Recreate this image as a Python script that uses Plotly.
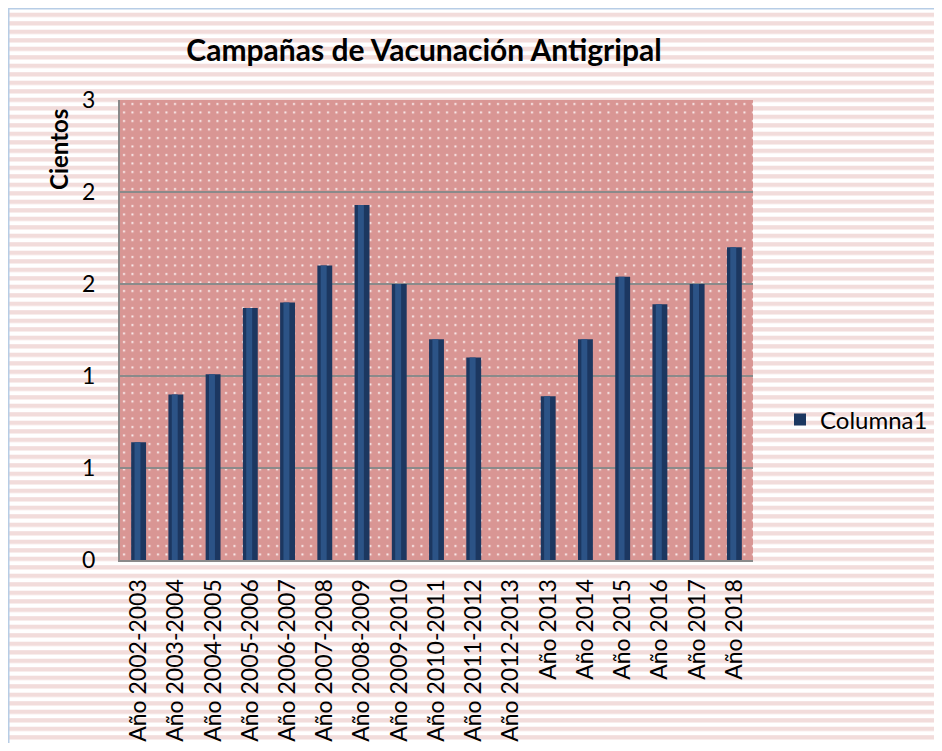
import base64
import plotly.graph_objects as go

# ---- data ----
categories = ["Año 2002-2003", "Año 2003-2004", "Año 2004-2005", "Año 2005-2006",
              "Año 2006-2007", "Año 2007-2008", "Año 2008-2009", "Año 2009-2010",
              "Año 2010-2011", "Año 2011-2012", "Año 2012-2013", "Año 2013",
              "Año 2014", "Año 2015", "Año 2016", "Año 2017", "Año 2018"]
columna1 = [0.64, 0.90, 1.01, 1.37, 1.40, 1.60, 1.93, 1.50, 1.20, 1.10,
            0, 0.89, 1.20, 1.54, 1.39, 1.50, 1.70]
y_tickvals = [0, 0.5, 1, 1.5, 2, 2.5]
y_ticktext = ["0", "1", "1", "2", "2", "3"]
series_name = "Columna1"
title_text = "Campañas de Vacunación Antigripal"
y_label = "Cientos"

# ---- geometry ----
W, H = 934, 735
ML, MR, MT, MB = 112, 189, 92, 183
PW, PH = W - ML - MR, H - MT - MB
FONT = "Lato"


def svg_uri(svg):
    return "data:image/svg+xml;base64," + base64.b64encode(svg.encode("utf-8")).decode("ascii")


stripes_svg = (
    f'<svg xmlns="http://www.w3.org/2000/svg" width="{W}" height="{H}" viewBox="0 0 {W} {H}">'
    f'<defs><pattern id="s" patternUnits="userSpaceOnUse" x="0" y="4.7" width="{W}" height="8.5">'
    f'<rect x="0" y="0" width="{W}" height="4.3" fill="#f2dcdb"/></pattern></defs>'
    f'<rect width="{W}" height="{H}" fill="#ffffff"/>'
    f'<rect width="{W}" height="{H}" fill="url(#s)"/>'
    f'<line x1="0.75" y1="0" x2="0.75" y2="{H}" stroke="#b7cde6" stroke-width="1.5"/>'
    f'<line x1="0" y1="0.75" x2="{W}" y2="0.75" stroke="#b7cde6" stroke-width="1.5"/>'
    f'</svg>'
)

dots_svg = (
    f'<svg xmlns="http://www.w3.org/2000/svg" width="{PW}" height="{PH}" viewBox="0 0 {PW} {PH}">'
    f'<defs><pattern id="d" patternUnits="userSpaceOnUse" x="0" y="0" width="8.5" height="8.5">'
    f'<rect x="3" y="3" width="2" height="2" fill="#fbeeee"/></pattern></defs>'
    f'<rect width="{PW}" height="{PH}" fill="#d99694"/>'
    f'<rect width="{PW}" height="{PH}" fill="url(#d)"/>'
    f'</svg>'
)

fig = go.Figure()
fig.add_trace(go.Bar(
    x=categories, y=columna1, name=series_name,
    width=0.40,
    marker=dict(color="#1c3760", line=dict(width=0)),
))
fig.add_trace(go.Bar(
    x=categories, y=columna1, name=series_name, showlegend=False,
    width=0.16, offset=-0.11,
    marker=dict(color="#2c5386", line=dict(width=0)),
    hoverinfo="skip",
))

fig.update_layout(
    width=W, height=H,
    margin=dict(l=ML, r=MR, t=MT, b=MB, autoexpand=False),
    paper_bgcolor="#ffffff",
    plot_bgcolor="rgba(0,0,0,0)",
    barmode="overlay",
    font=dict(family=FONT, size=23, color="#000000"),
    title=dict(text=f"<b>{title_text}</b>", x=416 / W, xref="container", xanchor="center",
               y=1 - 42 / H, yref="container", yanchor="middle",
               font=dict(family=FONT, size=30, color="#000000")),
    showlegend=True,
    legend=dict(x=(772 - ML) / PW, y=(MT + PH - 412) / PH + 0.0, xanchor="left", yanchor="middle",
                bgcolor="rgba(0,0,0,0)", font=dict(family=FONT, size=24, color="#000000"),
                itemsizing="constant"),
    images=[
        dict(source=svg_uri(stripes_svg), xref="paper", yref="paper",
             x=-ML / PW, y=1 + MT / PH, sizex=W / PW, sizey=H / PH,
             xanchor="left", yanchor="top", sizing="stretch", layer="below"),
        dict(source=svg_uri(dots_svg), xref="paper", yref="paper",
             x=0, y=1, sizex=1, sizey=1,
             xanchor="left", yanchor="top", sizing="stretch", layer="below"),
    ],
    annotations=[
        dict(text=f"<b>{y_label}</b>", xref="paper", yref="paper",
             x=(50 - ML) / PW, y=(MT + PH - 142) / PH, textangle=-90,
             showarrow=False, xanchor="center", yanchor="middle",
             font=dict(family=FONT, size=24, color="#000000")),
    ],
)

fig.update_xaxes(
    type="category", tickangle=-90, showgrid=False,
    showline=True, linecolor="#8a8a8a", linewidth=2,
    ticks="", ticklabelstandoff=8,
    tickfont=dict(family=FONT, size=23, color="#000000"),
)
fig.update_yaxes(
    range=[0, 2.5], tickvals=y_tickvals, ticktext=y_ticktext,
    showgrid=True, gridcolor="#8a8a8a", gridwidth=2,
    showline=True, linecolor="#8a8a8a", linewidth=2,
    zeroline=False, ticks="", ticklabelstandoff=18,
    tickfont=dict(family=FONT, size=23, color="#000000"),
)

fig.write_html("out.html")
